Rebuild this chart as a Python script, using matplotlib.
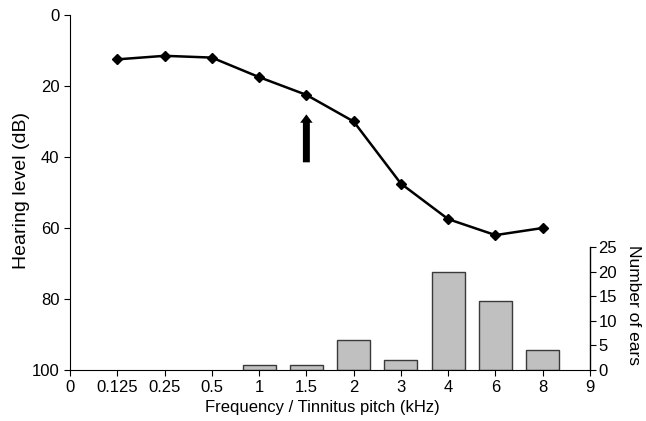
import matplotlib.pyplot as plt
import numpy as np

plt.rcParams['font.family'] = ['Liberation Sans', 'DejaVu Sans']

# tick labels along the x axis (one per slot)
tick_labels = ["0", "0.125", "0.25", "0.5", "1", "1.5", "2", "3", "4", "6", "8", "9"]

# hearing level per frequency
freqs = ["0.125", "0.25", "0.5", "1", "1.5", "2", "3", "4", "6", "8"]
hearing = [12.5, 11.5, 12, 17.5, 22.5, 30, 47.5, 57.5, 62, 60]

# tinnitus pitch histogram
pitch = ["1", "1.5", "2", "3", "4", "6", "8"]
ears = [1, 1, 6, 2, 20, 14, 4]

# arrow marks the pitch (kHz) from/to hearing level (dB)
arrow_freq = "1.5"
arrow_from, arrow_to = 41.5, 28

pos = {lab: i for i, lab in enumerate(tick_labels)}

fig = plt.figure(figsize=(6.46, 4.21), dpi=100)
ax = fig.add_axes([0.1084, 0.1211, 0.8049, 0.8433])
ax2 = ax.twinx()

# bars on the right axis
bx = [pos[p] for p in pitch]
ax2.bar(bx, ears, width=0.7, color="#c0c0c0", edgecolor="#3a3a3a", linewidth=1.0)
ax2.set_ylim(0, 25 * 355 / 123)
ax2.set_yticks([0, 5, 10, 15, 20, 25])
ax2.spines['right'].set_bounds(0, 25)
for s in ["top", "left", "bottom"]:
    ax2.spines[s].set_visible(False)
ax2.spines['right'].set_linewidth(1.0)
ax2.tick_params(axis="y", direction="out", length=4, labelsize=12, pad=2)
ax2.text(1.083, 0.183, "Number of ears", rotation=-90, transform=ax2.transAxes,
         ha="center", va="center", fontsize=12.5)

# hearing level line on the left axis
lx = [pos[f] for f in freqs]
ax.plot(lx, hearing, color="black", linewidth=1.8, marker="D", markersize=5.5, zorder=5)
ax.set_zorder(ax2.get_zorder() + 1)
ax.patch.set_visible(False)

ax.annotate("", xy=(pos[arrow_freq], arrow_to), xytext=(pos[arrow_freq], arrow_from),
            arrowprops=dict(arrowstyle="simple,head_length=0.6,head_width=0.9,tail_width=0.5",
                            mutation_scale=10, color="black", linewidth=0,
                            shrinkA=0, shrinkB=0))

ax.set_xlim(0, 11)
ax.set_xticks(range(len(tick_labels)))
ax.set_xticklabels(tick_labels)
ax.set_ylim(100, 0)
ax.set_yticks([0, 20, 40, 60, 80, 100])
for s in ["top", "right"]:
    ax.spines[s].set_visible(False)
ax.tick_params(direction="out", length=4, labelsize=12)
ax.text(-0.094, 0.507, "Hearing level (dB)", rotation=90, transform=ax.transAxes,
        ha="center", va="center", fontsize=14)
ax.set_xlabel("Frequency / Tinnitus pitch (kHz)", fontsize=12, labelpad=4)
ax.xaxis.set_label_coords(0.485, -0.085)

fig.savefig("out.png", dpi=100)
